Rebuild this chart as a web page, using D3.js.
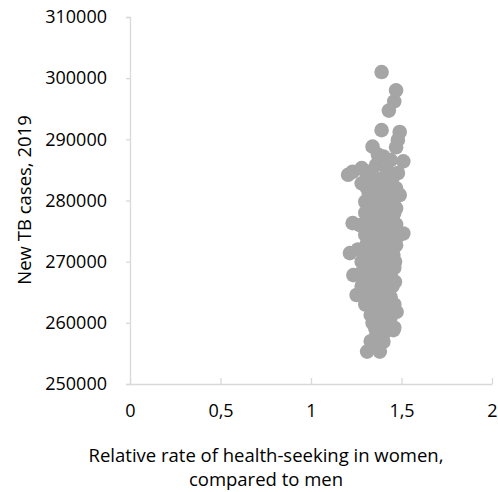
<!DOCTYPE html>
<html><head><meta charset="utf-8">
<script src="https://cdn.jsdelivr.net/npm/d3@7/dist/d3.min.js"></script>
<style>body{margin:0;background:#fff}text{font-family:"Open Sans",sans-serif;fill:#000}</style>
</head><body><svg id="c" width="498" height="492"></svg>
<script>
const xTicks = [0, 0.5, 1, 1.5, 2];
const yTicks = [250000, 260000, 270000, 280000, 290000, 300000, 310000];
const xTitle = ["Relative rate of health-seeking in women,", "compared to men"];
const yTitle = "New TB cases, 2019";
// Relative rate of health-seeking (x)
const rate = [
1.39,1.47,1.46,1.43,1.39,1.49,1.48,1.47,1.34,1.37,1.51,1.44,1.40,1.23,1.28,1.205,1.30,1.36,1.42,1.48,
1.28,1.30,1.23,1.30,1.215,1.30,1.234,1.252,1.33,1.355,1.31,1.38,
1.49,1.47,1.51,1.47,1.455,1.464,1.464,1.473,1.455,
1.33,1.37,1.41,1.45,
1.31,1.35,1.39,1.43,1.47,
1.32,1.36,1.40,1.44,
1.34,1.38,1.42,1.46,
1.32,1.36,1.40,1.44,
1.30,1.34,1.38,1.42,1.46,
1.33,1.37,1.41,1.45,
1.27,1.31,1.35,1.39,1.43,1.47,
1.33,1.37,1.41,1.45,
1.35,1.39,1.43,1.48,
1.31,1.35,1.39,1.43,
1.26,1.33,1.37,1.41,1.45,
1.35,1.39,1.43,
1.28,1.32,1.36,1.40,1.44,
1.30,1.34,1.38,1.42,1.46,
1.27,1.32,1.36,1.40,1.44,
1.30,1.34,1.38,1.42,
1.28,1.32,1.36,1.40,1.45,
1.30,1.34,1.38,1.42,
1.32,1.36,1.40,1.44,
1.30,1.34,1.38,1.42,1.46,
1.35,1.39,1.43,
1.36,1.40,1.44,
1.34,1.38,1.42,
1.37,1.41,1.46,
1.36,1.40,
1.33,1.37,1.40,
1.35
];
// New TB cases, 2019 (y)
const cases = [
301000,298000,296200,294700,291500,291200,289900,288700,288800,287500,286400,286600,287200,284700,285300,284200,284800,285800,285000,284500,
282800,279800,276300,274400,271400,271100,267800,264550,261300,259100,255300,255300,
280900,278700,274600,272700,271100,270000,266700,261800,258800,
283800,283500,283900,283600,
282000,282200,281900,282100,282000,
281000,281200,280900,281100,
280000,280100,279900,280200,
279000,279100,278900,279200,
278000,278100,277900,278200,278000,
277000,277100,276900,277200,
276000,276100,275900,276200,276000,276100,
275000,275100,274900,275200,
274000,274100,273900,274200,
273000,273100,272900,273200,
272000,272100,271900,272200,272000,
271000,271100,270900,
270000,270100,269900,270200,270000,
269000,269100,268900,269200,269000,
268000,268100,267900,268200,268000,
267000,267100,266900,267200,
266000,266100,265900,266200,266000,
265000,265100,264900,265200,
264000,264100,263900,264200,
263000,263100,262900,263200,263000,
262000,262100,261900,
261000,261100,260900,
260000,260100,259900,
259000,259100,259200,
258000,258100,
257000,257100,256900,
256000
];

const svg = d3.select("#c");
const x = d3.scaleLinear().domain([0, 2]).range([130, 492]);
const y = d3.scaleLinear().domain([250000, 310000]).range([384, 17]);
const axisCol = "#D9D9D9";

// Y axis (ticks outside, left)
const gy = svg.append("g").attr("transform", "translate(130,0)")
  .call(d3.axisLeft(y).tickValues(yTicks).tickSize(4).tickPadding(19).tickFormat(d3.format("d")));
gy.select(".domain").attr("stroke", axisCol).attr("stroke-width", 1.3);
gy.selectAll(".tick line").attr("stroke", axisCol).attr("stroke-width", 1.3);
gy.selectAll(".tick text").style("font-size", "18px").attr("fill", "#000");

// X axis (ticks inside, up)
const gx = svg.append("g").attr("transform", "translate(0,384)")
  .call(d3.axisBottom(x).tickValues(xTicks).tickSize(0).tickPadding(20)
    .tickFormat(d => String(d).replace(".", ",")));
gx.select(".domain").attr("stroke", axisCol).attr("stroke-width", 1.3);
gx.selectAll(".tick").append("line").attr("y1", 0).attr("y2", -6).attr("stroke", axisCol).attr("stroke-width", 1.3);
gx.selectAll(".tick text").style("font-size", "18px").attr("fill", "#000");

// Points
const pts = rate.map((r, i) => ({x: r, y: cases[i]}));
svg.append("g").selectAll("circle").data(pts).join("circle")
  .attr("cx", d => x(d.x)).attr("cy", d => y(d.y)).attr("r", 7.3)
  .attr("fill", "#A5A5A5");

// Titles
svg.append("text").attr("transform", "translate(31,200) rotate(-90)")
  .attr("text-anchor", "middle").style("font-size", "18.5px").text(yTitle);
svg.append("text").attr("x", 266).attr("y", 462).attr("text-anchor", "middle")
  .style("font-size", "18.5px").text(xTitle[0]);
svg.append("text").attr("x", 266).attr("y", 486).attr("text-anchor", "middle")
  .style("font-size", "18.5px").text(xTitle[1]);
</script></body></html>
